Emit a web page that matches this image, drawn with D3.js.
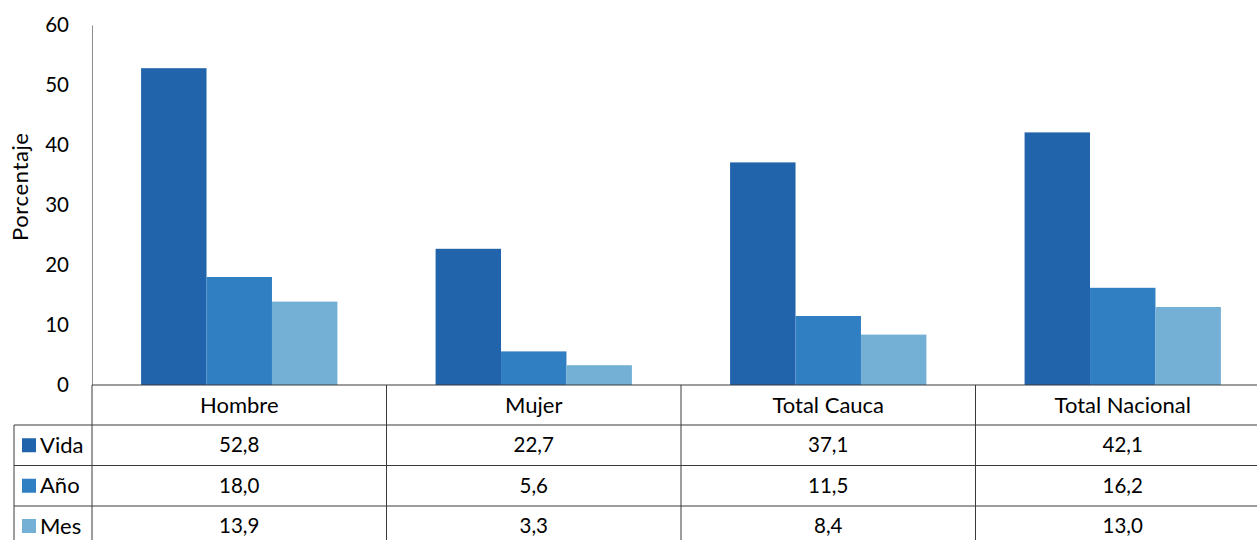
<!DOCTYPE html>
<html>
<head>
<meta charset="utf-8">
<script src="https://cdn.jsdelivr.net/npm/d3@7"></script>
<style>
  html, body { margin: 0; padding: 0; background: #fff; }
  svg { display: block; font-family: Lato, "Open Sans", sans-serif; }
</style>
</head>
<body>
<svg id="chart" width="1257" height="540"></svg>
<script>
// Categories, series and tick labels
const categories = ["Hombre", "Mujer", "Total Cauca", "Total Nacional"];
const seriesNames = ["Vida", "Año", "Mes"];
const vida = [52.8, 22.7, 37.1, 42.1];
const anio = [18.0, 5.6, 11.5, 16.2];
const mes = [13.9, 3.3, 8.4, 13.0];
const yTicks = [0, 10, 20, 30, 40, 50, 60];
const colors = ["#2264AB", "#317FC3", "#74B0D5"];

const seriesValues = [vida, anio, mes];
const fmt = v => v.toFixed(1).replace(".", ",");

const svg = d3.select("#chart");
const plotLeft = 92, bandW = 294.5;
const plotTop = 25, base = 385;
const rowH = [40, 40.5, 40.5, 40];
const tableRight = plotLeft + bandW * categories.length;
const wordSize = 22, numSize = 20.5;

const x = d3.scaleBand().domain(categories).range([plotLeft, tableRight]).padding(0);
const xs = d3.scaleBand().domain(seriesNames).range([0, x.bandwidth()]).paddingInner(0).paddingOuter(0.75);
const y = d3.scaleLinear().domain([0, 60]).range([base, plotTop]);

// Bars
categories.forEach((c, ci) => {
  seriesNames.forEach((s, si) => {
    const v = seriesValues[si][ci];
    svg.append("rect")
      .attr("x", x(c) + xs(s))
      .attr("y", y(v))
      .attr("width", xs.bandwidth())
      .attr("height", y(0) - y(v))
      .attr("fill", colors[si]);
  });
});

// Y axis
const yAxis = d3.axisLeft(y).tickValues(yTicks).tickSize(0).tickPadding(23).tickFormat(d3.format("d"));
const ya = svg.append("g").attr("transform", `translate(${plotLeft},0)`).call(yAxis);
ya.select(".domain").attr("stroke", "#8c8c8c").attr("stroke-width", 1);
ya.selectAll("text").attr("font-size", numSize).attr("fill", "#000").attr("font-family", "Lato, sans-serif");

svg.append("text")
  .attr("transform", `translate(28,187) rotate(-90)`)
  .attr("text-anchor", "middle")
  .attr("font-size", wordSize)
  .attr("textLength", 108)
  .attr("lengthAdjust", "spacing")
  .text("Porcentaje");

// Data table
const rowY = [base];
rowH.forEach(h => rowY.push(rowY[rowY.length - 1] + h));
const lineColor = "#3a3a3a";
const tableLeft = 14;

// Horizontal rules
svg.append("line").attr("x1", plotLeft).attr("x2", tableRight).attr("y1", rowY[0]).attr("y2", rowY[0])
  .attr("stroke", lineColor);
for (let i = 1; i < 4; i++) {
  svg.append("line").attr("x1", tableLeft).attr("x2", tableRight).attr("y1", rowY[i]).attr("y2", rowY[i])
    .attr("stroke", lineColor);
}
// Vertical rules
svg.append("line").attr("x1", tableLeft).attr("x2", tableLeft).attr("y1", rowY[1]).attr("y2", 540)
  .attr("stroke", lineColor);
categories.forEach(c => {
  svg.append("line").attr("x1", x(c)).attr("x2", x(c)).attr("y1", rowY[0]).attr("y2", 540)
    .attr("stroke", lineColor);
});
svg.append("line").attr("x1", tableRight).attr("x2", tableRight).attr("y1", rowY[0]).attr("y2", 540)
  .attr("stroke", lineColor);

// Header row
categories.forEach(c => {
  svg.append("text")
    .attr("x", x(c) + x.bandwidth() / 2)
    .attr("y", (rowY[0] + rowY[1]) / 2)
    .attr("dy", "0.35em")
    .attr("text-anchor", "middle")
    .attr("font-size", wordSize)
    .text(c);
});

// Series rows with legend keys
seriesNames.forEach((s, si) => {
  const cy = (rowY[si + 1] + rowY[si + 2]) / 2;
  svg.append("rect").attr("x", 22).attr("y", cy - 7).attr("width", 14).attr("height", 14).attr("fill", colors[si]);
  svg.append("text").attr("x", 40).attr("y", cy).attr("dy", "0.35em").attr("font-size", wordSize).text(s);
  categories.forEach((c, ci) => {
    svg.append("text")
      .attr("x", x(c) + x.bandwidth() / 2)
      .attr("y", cy)
      .attr("dy", "0.35em")
      .attr("text-anchor", "middle")
      .attr("font-size", numSize)
      .text(fmt(seriesValues[si][ci]));
  });
});
</script>
</body>
</html>
